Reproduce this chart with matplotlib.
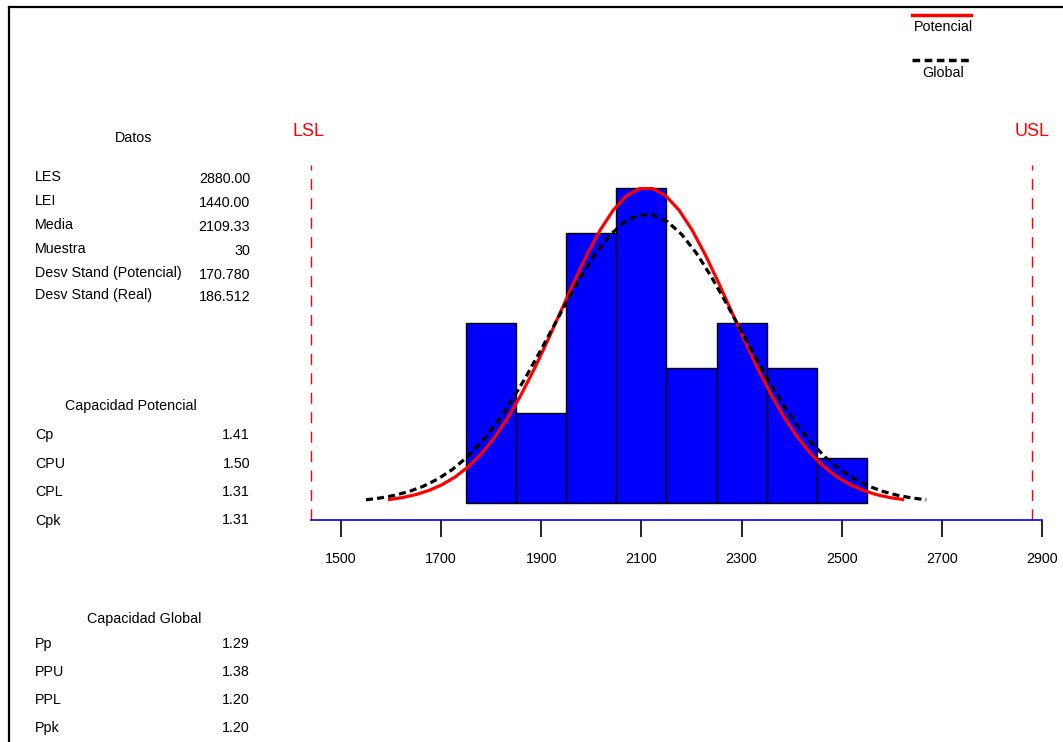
import matplotlib.pyplot as plt
import numpy as np
from matplotlib.lines import Line2D

plt.rcParams['font.family'] = ['Liberation Sans', 'DejaVu Sans']

# datos del histograma
bin_edges = [1750, 1850, 1950, 2050, 2150, 2250, 2350, 2450, 2550]
counts = [4, 2, 6, 7, 3, 4, 3, 1]

lsl = 1440.0
usl = 2880.0
media = 2109.33
n = 30
sd_pot = 170.780
sd_real = 186.512

xticks = [1500, 1700, 1900, 2100, 2300, 2500, 2700, 2900]

datos_labels = ["LES", "LEI", "Media", "Muestra", "Desv Stand (Potencial)", "Desv Stand (Real)"]
datos_values = ["2880.00", "1440.00", "2109.33", "30", "170.780", "186.512"]
pot_labels = ["Cp", "CPU", "CPL", "Cpk"]
pot_values = ["1.41", "1.50", "1.31", "1.31"]
glob_labels = ["Pp", "PPU", "PPL", "Ppk"]
glob_values = ["1.29", "1.38", "1.20", "1.20"]

W, H = 1063, 742
fig = plt.figure(figsize=(W / 100, H / 100), dpi=100)


def fx(px):
    return px / W


def fy(py):
    return 1 - py / H


# marco de la figura (arriba e izquierda)
fig.add_artist(Line2D([fx(9), 1], [fy(7), fy(7)], color="black", lw=1.6))
fig.add_artist(Line2D([fx(9), fx(9)], [fy(7), 0], color="black", lw=1.6))

# ejes principales
ax_left, ax_right = 311, 1042
ax_top, ax_bot = 140, 520
ax = fig.add_axes([fx(ax_left), fy(ax_bot), (ax_right - ax_left) / W, (ax_bot - ax_top) / H])
unit = 45.0  # px por conteo
y0 = -(ax_bot - 503) / unit
y1 = (503 - ax_top) / unit
ax.set_xlim(lsl, 2900)
ax.set_ylim(y0, y1)

widths = np.diff(bin_edges)
ax.bar(bin_edges[:-1], counts, width=widths, align="edge",
       color="#0000ff", edgecolor="black", linewidth=1.0, zorder=2)

# curvas normales
scale = n * 100
xp = np.linspace(media - 3 * sd_pot, media + 3 * sd_pot, 40)
yp = scale * np.exp(-0.5 * ((xp - media) / sd_pot) ** 2) / (sd_pot * np.sqrt(2 * np.pi))
xg = np.linspace(media - 3 * sd_real, media + 3 * sd_real, 40)
yg = scale * np.exp(-0.5 * ((xg - media) / sd_real) ** 2) / (sd_real * np.sqrt(2 * np.pi))
ax.plot(xp, yp, color="#ff0000", lw=2.3, zorder=3)
ax.plot(xg, yg, color="black", lw=2.3, ls=(0, (2.2, 1.3)), zorder=4)

# limites de especificacion
y_lim_top = (503 - 165) / unit
ax.plot([lsl, lsl], [y0, y_lim_top], color="#ff0000", lw=1.0, ls=(0, (8, 6)), zorder=1, clip_on=False)
ax.plot([usl, usl], [y0, y_lim_top], color="#ff0000", lw=1.0, ls=(0, (8, 6)), zorder=1, clip_on=False)
fig.text(fx(309), fy(131), "LSL", color="#ff0000", fontsize=13, ha="center", va="center")
fig.text(fx(1032), fy(131), "USL", color="#ff0000", fontsize=13, ha="center", va="center")

for s in ["top", "left", "right"]:
    ax.spines[s].set_visible(False)
ax.spines["bottom"].set_color("#0000ff")
ax.spines["bottom"].set_linewidth(1.2)
ax.set_yticks([])
ax.set_xticks(xticks)
ax.set_xticklabels([str(t) for t in xticks])
ax.tick_params(axis="x", direction="out", length=12, width=1.2, color="black",
               labelsize=10.3, pad=11)

# leyenda
fig.add_artist(Line2D([fx(912), fx(971)], [fy(15), fy(15)], color="#ff0000", lw=2.5))
fig.text(fx(943), fy(27), "Potencial", fontsize=10.3, ha="center", va="center")
fig.add_artist(Line2D([fx(912), fx(971)], [fy(60), fy(60)], color="black", lw=2.5, ls=(0, (2.2, 1.3))))
fig.text(fx(943), fy(73), "Global", fontsize=10.3, ha="center", va="center")

# panel de texto
fs = 10.3
fig.text(fx(134), fy(138), "Datos", fontsize=fs, ha="center", va="center")
datos_y = [177, 201, 225, 249, 273, 295]
for lab, val, yy in zip(datos_labels, datos_values, datos_y):
    fig.text(fx(35), fy(yy), lab, fontsize=fs, ha="left", va="center")
    fig.text(fx(250), fy(yy + 2), val, fontsize=fs, ha="right", va="center")

fig.text(fx(131), fy(406), "Capacidad Potencial", fontsize=fs, ha="center", va="center")
for i, (lab, val) in enumerate(zip(pot_labels, pot_values)):
    yy = 435 + i * 28.5
    fig.text(fx(35), fy(yy), lab, fontsize=fs, ha="left", va="center")
    fig.text(fx(250), fy(yy), val, fontsize=fs, ha="right", va="center")

fig.text(fx(144), fy(619), "Capacidad Global", fontsize=fs, ha="center", va="center")
for i, (lab, val) in enumerate(zip(glob_labels, glob_values)):
    yy = 644 + i * 28
    fig.text(fx(35), fy(yy), lab, fontsize=fs, ha="left", va="center")
    fig.text(fx(250), fy(yy), val, fontsize=fs, ha="right", va="center")

fig.savefig("out.png", dpi=100)
